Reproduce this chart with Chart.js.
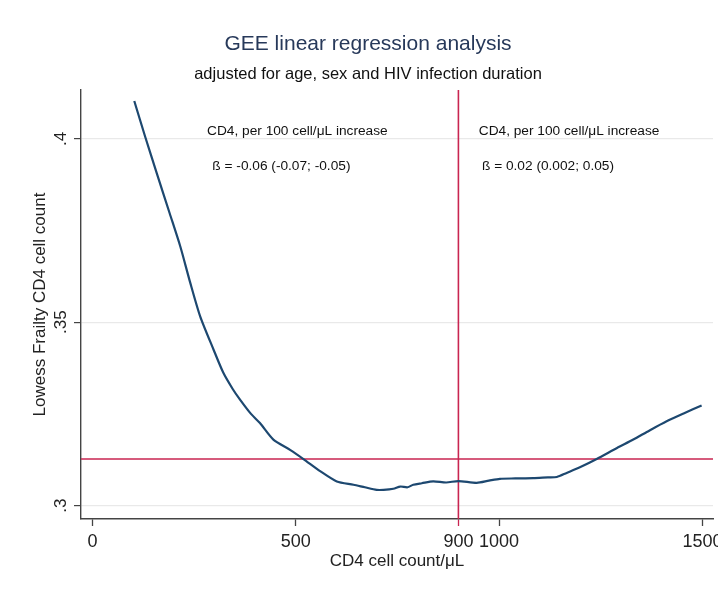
<!DOCTYPE html>
<html>
<head>
<meta charset="utf-8">
<title>GEE linear regression analysis</title>
<script src="https://cdn.jsdelivr.net/npm/chart.js@4/dist/chart.umd.min.js"></script>
<style>
  html, body { margin: 0; padding: 0; background: #fff; }
  #wrap { position: relative; width: 718px; height: 597px; }
</style>
</head>
<body>
<div id="wrap"><canvas id="grafico"></canvas></div>
<script>
// --- DATOS ---
// Curva lowess: fragilidad según recuento de CD4
const cd4Count = [103, 130, 158, 190, 216, 240, 265, 298, 322, 345, 363, 390, 412, 445, 486, 519,
  560, 601, 642, 670, 699, 716, 740, 757, 775, 789, 810, 838, 870, 900, 945, 975, 1002, 1040,
  1084, 1120, 1142, 1166, 1200, 1240, 1290, 1330, 1370, 1412, 1455, 1498];
const frailty = [.4103, .4005, .3907, .3797, .3707, .3610, .3516, .3425, .3362, .3318, .3289, .3250,
  .3225, .3180, .3152, .3127, .3094, .3066, .3057, .3050, .3043, .3043, .3046, .3052, .3050, .3057,
  .3061, .3066, .3063, .3067, .3062, .3068, .3073, .3074, .3075, .3077, .3078, .3089, .3105, .3127,
  .3157, .3180, .3205, .3230, .3252, .3273];

// líneas de referencia
const cutoffCD4 = 900;
const refFrailty = .3127;

// ejes
const xTicks = [0, 500, 900, 1000, 1500];
const yTicks = [.3, .35, .4];
const yTickLabels = ['.3', '.35', '.4'];
const xRange = [-28, 1526];
const yRange = [.29635, .4133];

// textos
const titulo = 'GEE linear regression analysis';
const subtitulo = 'adjusted for age, sex and HIV infection duration';
const tituloX = 'CD4 cell count/μL';
const tituloY = 'Lowess Frailty CD4 cell count';
const notaIzq = ['CD4, per 100 cell/μL increase', 'ß = -0.06 (-0.07; -0.05)'];
const notaDer = ['CD4, per 100 cell/μL increase', 'ß = 0.02 (0.002; 0.05)'];

const FUENTE = '"Liberation Sans", Arial, Helvetica, sans-serif';
const ROJO = '#c92551';
const AZUL = '#1d4870';

// --- TEXTOS DIBUJADOS SOBRE EL CANVAS ---
const textosStata = {
    id: 'textosStata',
    afterDraw(chart) {
        const ctx = chart.ctx;
        const sx = chart.scales.x;
        const sy = chart.scales.y;
        ctx.save();
        ctx.textAlign = 'center';
        ctx.textBaseline = 'middle';

        // titulo y subtitulo
        ctx.fillStyle = '#27395a';
        ctx.font = '21px ' + FUENTE;
        ctx.fillText(titulo, 368, 44);
        ctx.fillStyle = '#111';
        ctx.font = '16.5px ' + FUENTE;
        ctx.fillText(subtitulo, 368, 74);

        // etiquetas del eje Y, giradas como en Stata
        ctx.fillStyle = '#222';
        ctx.font = '17px ' + FUENTE;
        yTicks.forEach((v, i) => {
            ctx.save();
            ctx.translate(61, sy.getPixelForValue(v));
            ctx.rotate(-Math.PI / 2);
            ctx.fillText(yTickLabels[i], 0, 0);
            ctx.restore();
        });

        // titulos de ejes
        ctx.font = '17px ' + FUENTE;
        ctx.save();
        ctx.translate(40, (sy.top + sy.bottom) / 2);
        ctx.rotate(-Math.PI / 2);
        ctx.fillText(tituloY, 0, 0);
        ctx.restore();
        ctx.fillText(tituloX, (sx.left + sx.right) / 2, 561);

        // notas con los coeficientes
        ctx.textAlign = 'left';
        ctx.fillStyle = '#111';
        ctx.font = '13.7px ' + FUENTE;
        ctx.fillText(notaIzq[0], sx.getPixelForValue(282), sy.getPixelForValue(.4021));
        ctx.fillText(notaIzq[1], sx.getPixelForValue(295), sy.getPixelForValue(.3925));
        ctx.fillText(notaDer[0], sx.getPixelForValue(950), sy.getPixelForValue(.4021));
        ctx.fillText(notaDer[1], sx.getPixelForValue(958), sy.getPixelForValue(.3925));
        ctx.restore();
    }
};

// --- GRAFICO ---
const puntos = cd4Count.map((c, i) => ({ x: c, y: frailty[i] }));

new Chart(document.getElementById('grafico'), {
    type: 'scatter',
    data: {
        datasets: [
            {
                label: 'Lowess',
                data: puntos,
                showLine: true,
                borderColor: AZUL,
                borderWidth: 2.2,
                pointRadius: 0,
                tension: 0.25,
                order: 1
            },
            {
                label: 'CD4 900',
                data: [{ x: cutoffCD4, y: yRange[0] }, { x: cutoffCD4, y: yRange[1] }],
                showLine: true,
                borderColor: ROJO,
                borderWidth: 1.6,
                pointRadius: 0,
                order: 2
            },
            {
                label: 'Referencia',
                data: [{ x: xRange[0], y: refFrailty }, { x: xRange[1], y: refFrailty }],
                showLine: true,
                borderColor: ROJO,
                borderWidth: 1.6,
                pointRadius: 0,
                order: 2
            }
        ]
    },
    options: {
        responsive: true,
        maintainAspectRatio: false,
        animation: false,
        layout: { padding: { top: 90, right: 5, left: 0, bottom: 0 } },
        plugins: {
            legend: { display: false },
            tooltip: { enabled: false }
        },
        scales: {
            x: {
                type: 'linear',
                min: xRange[0],
                max: xRange[1],
                afterBuildTicks: (scale) => { scale.ticks = xTicks.map(v => ({ value: v })); },
                afterFit: (scale) => {
                    scale.height = 78;
                    scale.paddingLeft = 0;
                    scale.paddingRight = 0;
                },
                ticks: {
                    autoSkip: false,
                    maxRotation: 0,
                    color: '#222',
                    padding: 5,
                    font: { family: FUENTE, size: 18 },
                    callback: (v) => String(v)
                },
                grid: {
                    drawOnChartArea: false,
                    drawTicks: true,
                    tickLength: 7,
                    tickColor: (c) => (c.tick && c.tick.value === cutoffCD4 ? ROJO : '#444'),
                    tickWidth: 1.3
                },
                border: { display: true, color: '#444', width: 1.4 }
            },
            y: {
                type: 'linear',
                min: yRange[0],
                max: yRange[1],
                afterBuildTicks: (scale) => { scale.ticks = yTicks.map(v => ({ value: v })); },
                afterFit: (scale) => { scale.width = 81; },
                ticks: { display: false },
                grid: { color: '#e9e9e9', lineWidth: 1.2, drawTicks: true, tickLength: 7, tickColor: '#444', tickWidth: 1.2 },
                border: { display: true, color: '#444', width: 1.4 }
            }
        }
    },
    plugins: [textosStata]
});
</script>
</body>
</html>
